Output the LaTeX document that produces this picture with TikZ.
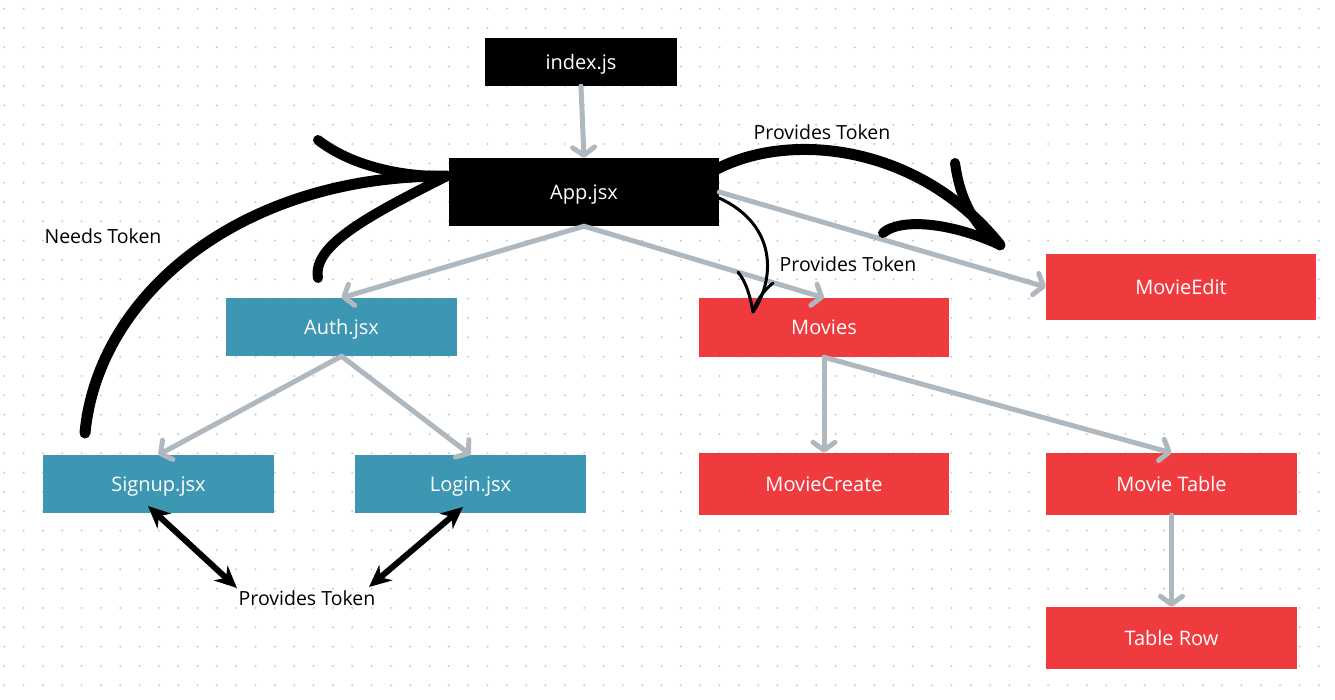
\documentclass[tikz,border=0pt]{standalone}
\usepackage{fontspec}
\setmainfont{Open Sans}
\usetikzlibrary{arrows.meta}
\definecolor{tealbox}{RGB}{61,151,178}
\definecolor{redbox}{RGB}{239,58,62}
\definecolor{greyline}{RGB}{176,184,191}
\definecolor{dotc}{RGB}{200,200,212}
\begin{document}
\begin{tikzpicture}[x=1pt,y=-1pt,
  box/.style={inner sep=0pt, text=white, font=\fontsize{20}{24}\selectfont, text height=18.3pt, text depth=4pt, anchor=center},
  blk/.style={box, fill=black},
  tbox/.style={box, fill=tealbox},
  rbox/.style={box, fill=redbox},
  garrow/.style={draw=greyline, line width=5pt, line cap=round, -{Straight Barb[length=8pt,width=22pt,round]}},
  hand/.style={draw=black, line width=11pt, line cap=round},
  thinhand/.style={draw=black, line width=3pt, line cap=round},
  dbl/.style={draw=black, line width=6pt, {Stealth[length=22pt,width=20pt,inset=7pt]}-{Stealth[length=22pt,width=20pt,inset=7pt]}},
  lbl/.style={inner sep=0pt, text=black, font=\fontsize{19.5}{23}\selectfont, text height=17.9pt, text depth=4pt}
]
\useasboundingbox (0,0) rectangle (1335,699);
\fill[white] (0,0) rectangle (1335,699);
\foreach \i in {0,...,68}{\foreach \j in {0,...,35}{\fill[dotc] (4.3+19.33*\i, 8.7+19.33*\j) circle (1.1pt);}}

% nodes
\node[blk, minimum width=192pt, minimum height=48pt] (index) at (581,62) {index.js};
\node[blk, minimum width=270pt, minimum height=68pt] (app) at (584,192) {App.jsx};
\node[tbox, minimum width=231pt, minimum height=58pt] (auth) at (341.5,327) {Auth.jsx};
\node[tbox, minimum width=231pt, minimum height=58pt] (signup) at (158.5,484) {Signup.jsx};
\node[tbox, minimum width=231pt, minimum height=58pt] (login) at (470.5,484) {Login.jsx};
\node[rbox, minimum width=250pt, minimum height=59pt] (movies) at (824,327.5) {Movies};
\node[rbox, minimum width=270pt, minimum height=66pt] (movieedit) at (1181,287) {MovieEdit};
\node[rbox, minimum width=250pt, minimum height=62pt] (moviecreate) at (824,484) {MovieCreate};
\node[rbox, minimum width=251pt, minimum height=62pt] (movietable) at (1171.5,484) {Movie Table};
\node[rbox, minimum width=251pt, minimum height=62pt] (tablerow) at (1171.5,638) {Table Row};

% grey connectors
\draw[garrow] (index.south) -- (app.north);
\draw[garrow] (app.south) -- (auth.north);
\draw[garrow] (app.south) -- (movies.north);
\draw[garrow] (app.east) -- (movieedit.west);
\draw[garrow] (auth.south) -- (signup.north);
\draw[garrow] (auth.south) -- (login.north);
\draw[garrow] (movies.south) -- (moviecreate.north);
\draw[garrow] (movies.south) -- (movietable.north);
\draw[garrow] (movietable.south) -- (tablerow.north);

% labels
\node[lbl] (needs) at (103,237) {Needs Token};
\node[lbl] (ptop) at (822,133) {Provides Token};
\node[lbl] (pmid) at (848,265) {Provides Token};
\node[lbl] (pbot) at (307,599) {Provides Token};

% hand drawn: Needs Token
\coordinate (nStart) at (85,433);
\coordinate (nTip) at (447,176);
\coordinate (nUp) at (318,140);
\coordinate (nLow) at (318,278);
\draw[hand] (nStart) .. controls (98,295) and (240,175) .. (nTip);
\draw[hand, line width=10pt] (nUp) .. controls (350,165) and (400,177) .. (nTip);
\draw[hand, line width=10pt] (nTip) .. controls (370,215) and (312,245) .. (nLow);

% hand drawn: Provides Token (top)
\coordinate (pStart) at (715,170);
\coordinate (pTip) at (1000,245);
\coordinate (pUp) at (955,163);
\coordinate (pLow) at (883,233);
\draw[hand] (pStart) .. controls (790,130) and (920,145) .. (pTip);
\draw[hand, line width=10pt] (pUp) .. controls (960,200) and (975,228) .. (pTip);
\draw[hand, line width=10pt] (pLow) .. controls (900,218) and (950,222) .. (pTip);

% thin hand drawn to Movies
\coordinate (mStart) at (719,198);
\coordinate (mTip) at (753,312);
\coordinate (mL) at (738,272);
\coordinate (mR) at (773,283);
\draw[thinhand] (mStart) .. controls (778,225) and (775,280) .. (mTip);
\draw[thinhand] (mL) .. controls (746,282) and (750,295) .. (mTip);
\draw[thinhand] (mR) .. controls (762,292) and (756,302) .. (mTip);

% double arrows
\coordinate (sgTip) at (148,506);
\coordinate (ptL) at (237,588);
\coordinate (lgTip) at (463,507);
\coordinate (ptR) at (369,587);
\draw[dbl] (sgTip) -- (ptL);
\draw[dbl] (lgTip) -- (ptR);
\end{tikzpicture}
\end{document}
